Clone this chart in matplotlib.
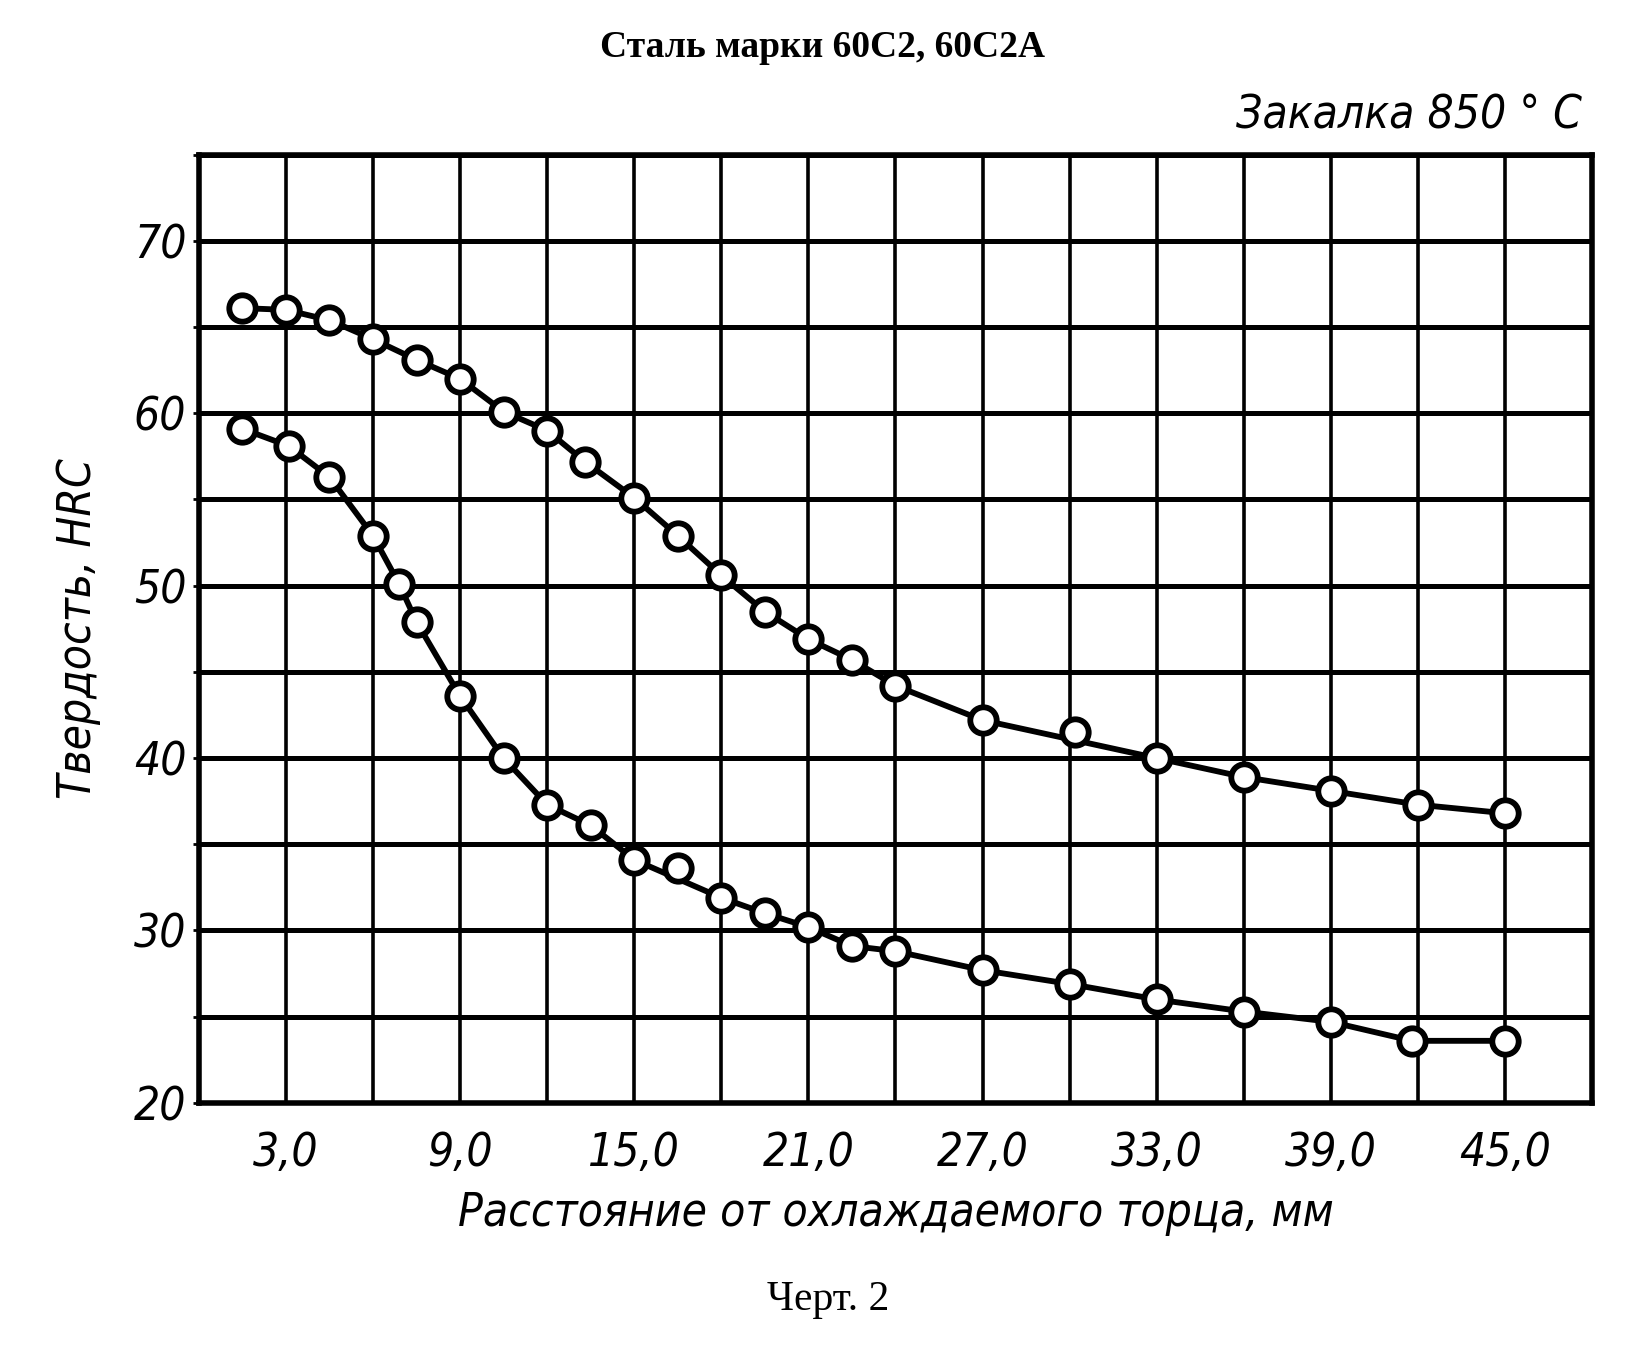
import matplotlib
matplotlib.use("Agg")
import matplotlib.pyplot as plt
from matplotlib.ticker import MultipleLocator, FixedLocator

# upper curve (max hardness)
dist_upper = [1.5, 3.0, 4.5, 6.0, 7.5, 9.0, 10.5, 12.0, 13.3, 15.0, 16.5, 18.0,
              19.5, 21.0, 22.5, 24.0, 27.0, 30.2, 33.0, 36.0, 39.0, 42.0, 45.0]
hrc_upper = [66.1, 66.0, 65.4, 64.3, 63.1, 62.0, 60.1, 59.0, 57.2, 55.1, 52.9, 50.6,
             48.5, 46.9, 45.7, 44.2, 42.2, 41.5, 40.0, 38.9, 38.1, 37.3, 36.8]
online_upper = [1] * 17 + [0] + [1] * 5

# lower curve (min hardness)
dist_lower = [1.5, 3.1, 4.5, 6.0, 6.9, 7.5, 9.0, 10.5, 12.0, 13.5, 15.0, 16.5,
              18.0, 19.5, 21.0, 22.5, 24.0, 27.0, 30.0, 33.0, 36.0, 39.0, 41.8, 45.0]
hrc_lower = [59.1, 58.1, 56.3, 52.9, 50.1, 47.9, 43.6, 40.0, 37.3, 36.1, 34.1, 33.6,
             31.9, 31.0, 30.2, 29.1, 28.8, 27.7, 26.9, 26.0, 25.3, 24.7, 23.6, 23.6]
online_lower = [1] * 11 + [0] + [1] * 12

xticks = [3, 9, 15, 21, 27, 33, 39, 45]
xticklabels = ["3,0", "9,0", "15,0", "21,0", "27,0", "33,0", "39,0", "45,0"]
yticks = [20, 30, 40, 50, 60, 70]

lab = dict(family="DejaVu Sans", style="oblique", fontstretch="condensed")

fig = plt.figure(figsize=(16.43, 13.45), dpi=100)
ax = fig.add_axes([0.121, 0.180, 0.848, 0.705])

ax.set_xlim(0, 48)
ax.set_ylim(20, 75)
ax.xaxis.set_major_locator(FixedLocator(xticks))
ax.xaxis.set_minor_locator(MultipleLocator(3))
ax.yaxis.set_major_locator(FixedLocator(yticks))
ax.yaxis.set_minor_locator(MultipleLocator(5))
ax.set_xticklabels(xticklabels)

ax.grid(True, which="both", axis="x", color="black", lw=2.6)
ax.grid(True, which="both", axis="y", color="black", lw=3.6)
ax.set_axisbelow(True)
for s in ax.spines.values():
    s.set_linewidth(4)

ax.tick_params(axis="x", which="both", length=0, pad=20, labelsize=33)
ax.tick_params(axis="y", which="both", length=4, width=2, pad=5, labelsize=33)
for t in ax.get_xticklabels() + ax.get_yticklabels():
    t.set_fontstyle("oblique")
    t.set_fontstretch("condensed")

for xs, ys, on in [(dist_upper, hrc_upper, online_upper),
                   (dist_lower, hrc_lower, online_lower)]:
    lx = [x for x, o in zip(xs, on) if o]
    ly = [y for y, o in zip(ys, on) if o]
    ax.plot(lx, ly, color="black", lw=4.2, zorder=3)
    ax.plot(xs, ys, "o", ms=19, mfc="white", mec="black", mew=4.2, zorder=4)

fig.text(0.5006, 0.965, "Сталь марки 60С2, 60С2А", ha="center", va="center",
         family="Liberation Serif", weight="bold", fontsize=27)
fig.text(0.963, 0.914, "Закалка 850 ° С", ha="right", va="center", fontsize=33, **lab)
fig.text(0.048, 0.533, "Твердость, HRC", ha="center", va="center", rotation=90,
         fontsize=33, **lab)
fig.text(0.545, 0.098, "Расстояние от охлаждаемого торца, мм", ha="center",
         va="center", fontsize=33, **lab)
fig.text(0.504, 0.034, "Черт. 2", ha="center", va="center",
         family="Liberation Serif", fontsize=30)

fig.savefig("out.png", dpi=100, facecolor="white")
